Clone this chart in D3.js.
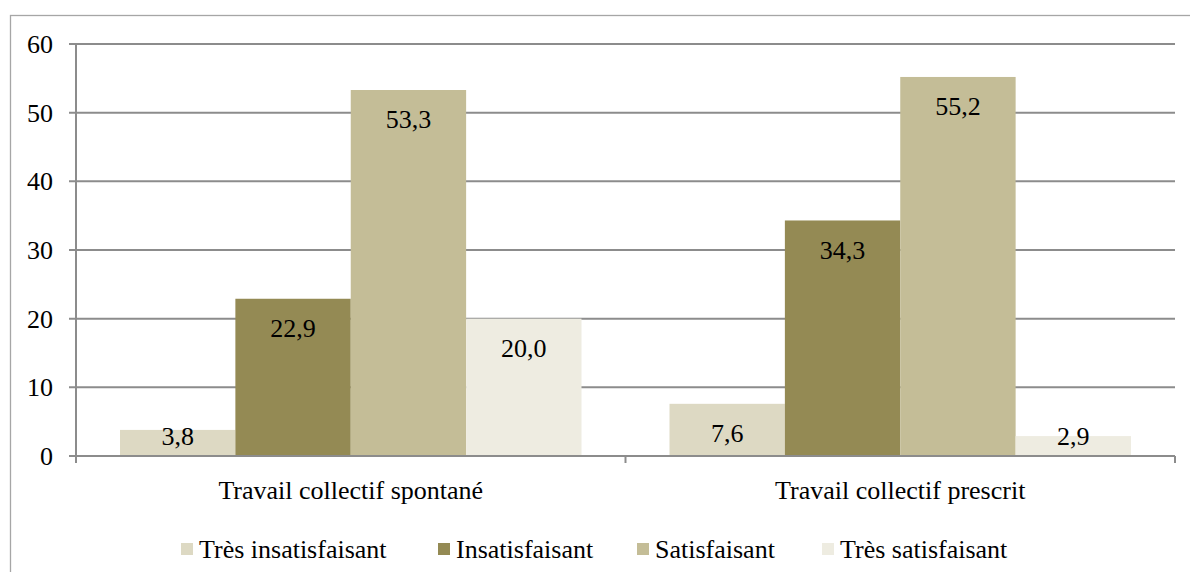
<!DOCTYPE html>
<html>
<head>
<meta charset='utf-8'>
<title>Travail collectif</title>
<script src='https://d3js.org/d3.v7.min.js'></script>
<style>
  body {margin:0; background:#fff;}
</style>
</head>
<body>
<svg id='chart' width='1190' height='572' font-family='Liberation Serif, Times New Roman, Times, DejaVu Serif, serif'></svg>
<script>
// data
var categories=['Travail collectif spontané','Travail collectif prescrit'];
var series=['Très insatisfaisant','Insatisfaisant','Satisfaisant','Très satisfaisant'];
var spontane=[3.8,22.9,53.3,20.0];
var prescrit=[7.6,34.3,55.2,2.9];
var yTicks=[0,10,20,30,40,50,60];
var colors=['#ddd9c3','#948a54','#c4bd97','#eeece1'];

var values=[spontane,prescrit];
var fs=26;
var svg=d3.select('#chart');

// outer frame
svg.append('rect').attr('x',10.5).attr('y',15.5).attr('width',1200).attr('height',600)
   .attr('fill','none').attr('stroke','#a6a6a6').attr('stroke-width',1.3);

var pL=76,pR=1175,pT=44,pB=456;
var x=d3.scaleBand().domain(categories).range([pL,pR]);
var xs=d3.scaleBand().domain(series).range([44,x.bandwidth()-44]);
var y=d3.scaleLinear().domain([0,60]).range([pB,pT]);
var fmt=function(v){return d3.format('.1f')(v).replace('.',',');};

// gridlines
svg.append('g').selectAll('line').data(yTicks).enter().append('line')
   .attr('x1',pL-7).attr('x2',pR)
   .attr('y1',function(d){return y(d);}).attr('y2',function(d){return y(d);})
   .attr('stroke','#8c8c8c').attr('stroke-width',2);
svg.append('g').selectAll('text').data(yTicks).enter().append('text')
   .attr('x',53).attr('y',function(d){return y(d);}).attr('dy','0.35em')
   .attr('text-anchor','end').attr('font-size',fs).text(function(d){return d;});

// y axis line
svg.append('line').attr('x1',pL).attr('x2',pL).attr('y1',pT).attr('y2',pB)
   .attr('stroke','#8c8c8c').attr('stroke-width',2);

// bars
var g=svg.selectAll('.grp').data(categories).enter().append('g')
   .attr('transform',function(d){return 'translate('+x(d)+',0)';});
g.selectAll('rect').data(function(d,i){return values[i].map(function(v,j){return {s:series[j],v:v,c:colors[j]};});})
 .enter().append('rect')
 .attr('x',function(d){return xs(d.s);}).attr('width',xs.bandwidth())
 .attr('y',function(d){return y(d.v);}).attr('height',function(d){return pB-y(d.v);})
 .attr('fill',function(d){return d.c;});
g.selectAll('text.val').data(function(d,i){return values[i].map(function(v,j){return {s:series[j],v:v};});})
 .enter().append('text').attr('class','val')
 .attr('x',function(d){return xs(d.s)+xs.bandwidth()/2;})
 .attr('y',function(d){return Math.min(y(d.v)+29,436);}).attr('dy','0.35em')
 .attr('text-anchor','middle').attr('font-size',fs).text(function(d){return fmt(d.v);});

// x axis line & ticks
svg.append('line').attr('x1',pL).attr('x2',pR).attr('y1',pB).attr('y2',pB)
   .attr('stroke','#8c8c8c').attr('stroke-width',2);
var tickX=[pL,x(categories[1]),pR];
svg.append('g').selectAll('line').data(tickX).enter().append('line')
   .attr('x1',function(d){return d;}).attr('x2',function(d){return d;})
   .attr('y1',pB).attr('y2',pB+7).attr('stroke','#8c8c8c').attr('stroke-width',2);
svg.append('g').selectAll('text').data(categories).enter().append('text')
   .attr('x',function(d){return x(d)+x.bandwidth()/2;}).attr('y',490).attr('dy','0.35em')
   .attr('text-anchor','middle').attr('font-size',fs).text(function(d){return d;});

// legend
var legX=[181,438,637,822];
var leg=svg.append('g').selectAll('g').data(series).enter().append('g')
   .attr('transform',function(d,i){return 'translate('+legX[i]+',549)';});
leg.append('rect').attr('x',0).attr('y',-6).attr('width',12).attr('height',12)
   .attr('fill',function(d,i){return colors[i];});
leg.append('text').attr('x',18).attr('dy','0.35em').attr('font-size',fs)
   .text(function(d){return d;});
</script>
</body>
</html>
